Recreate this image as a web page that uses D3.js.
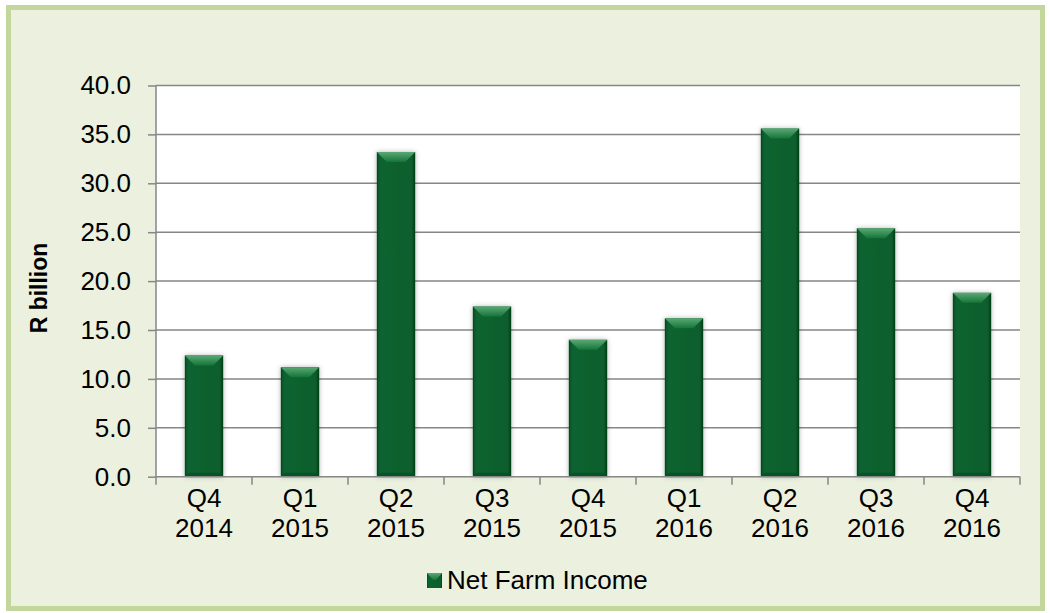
<!DOCTYPE html>
<html>
<head>
<meta charset="utf-8">
<script src="https://cdn.jsdelivr.net/npm/d3@7"></script>
<style>
  body { margin: 0; background: #fff; }
  svg { display: block; font-family: "Liberation Sans", Arial, sans-serif; }
</style>
</head>
<body>
<svg width="1050" height="613"></svg>
<script>
const quarters = ['Q4', 'Q1', 'Q2', 'Q3', 'Q4', 'Q1', 'Q2', 'Q3', 'Q4']
const years = ['2014', '2015', '2015', '2015', '2015', '2016', '2016', '2016', '2016']
const netFarmIncome = [12.4, 11.2, 33.2, 17.4, 14.0, 16.2, 35.6, 25.4, 18.8]
const yTicks = [0, 5, 10, 15, 20, 25, 30, 35, 40]

const svg = d3.select('svg')
const margin = { left: 156, right: 1020, top: 85.5, bottom: 476.7 }

// chart background + frame
svg.append('rect')
    .attr('x', 8.5).attr('y', 7.5)
    .attr('width', 1034).attr('height', 601)
    .attr('fill', '#ebf1de')
    .attr('stroke', '#c3d69b')
    .attr('stroke-width', 5)

svg.append('rect')
    .attr('x', margin.left).attr('y', margin.top)
    .attr('width', margin.right - margin.left)
    .attr('height', margin.bottom - margin.top)
    .attr('fill', '#fff')

const defs = svg.append('defs')
const grad = defs.append('linearGradient').attr('id', 'barGrad')
    .attr('x1', '0%').attr('x2', '100%')
grad.append('stop').attr('offset', '0%').attr('stop-color', '#054a20')
grad.append('stop').attr('offset', '10%').attr('stop-color', '#0b6430')
grad.append('stop').attr('offset', '90%').attr('stop-color', '#0a5f2d')
grad.append('stop').attr('offset', '100%').attr('stop-color', '#033f17')

const topGrad = defs.append('linearGradient').attr('id', 'topGrad')
    .attr('x1', '0%').attr('x2', '0%').attr('y1', '0%').attr('y2', '100%')
topGrad.append('stop').attr('offset', '0%').attr('stop-color', '#5aa874')
topGrad.append('stop').attr('offset', '100%').attr('stop-color', '#157539')

const shadow = defs.append('filter').attr('id', 'shadow')
    .attr('x', '-30%').attr('y', '-10%').attr('width', '160%').attr('height', '120%')
shadow.append('feDropShadow').attr('dx', 0).attr('dy', 0)
    .attr('stdDeviation', 2.5).attr('flood-color', '#000').attr('flood-opacity', 0.3)

const x = d3.scaleBand()
    .domain(d3.range(quarters.length))
    .range([margin.left, margin.right])

const y = d3.scaleLinear()
    .domain([0, 40])
    .range([margin.bottom, margin.top])

// gridlines
svg.append('g')
    .selectAll('line').data(yTicks.filter(d => d > 0))
    .enter().append('line')
    .attr('x1', margin.left).attr('x2', margin.right)
    .attr('y1', d => y(d)).attr('y2', d => y(d))
    .attr('stroke', '#868686').attr('stroke-width', 1.5)

// y axis
const yAxis = svg.append('g')
    .attr('transform', `translate(${margin.left},0)`)
    .call(d3.axisLeft(y).tickValues(yTicks).tickFormat(d3.format('.1f')).tickSize(8).tickPadding(17))
yAxis.selectAll('path, line').attr('stroke', '#868686').attr('stroke-width', 1.5)
yAxis.select('.domain').attr('d', `M0,${margin.top}V${margin.bottom}`)
yAxis.selectAll('text').attr('font-size', 26).attr('fill', '#000')
    .attr('font-family', '"Liberation Sans", Arial, sans-serif')

// bars
const barW = x.bandwidth() * 0.4
const bars = svg.append('g').selectAll('g').data(netFarmIncome)
    .enter().append('g')
    .attr('transform', (d, i) => `translate(${x(i) + (x.bandwidth() - barW) / 2},0)`)

bars.append('rect')
    .attr('y', d => y(d))
    .attr('width', barW)
    .attr('height', d => y(0) - y(d))
    .attr('fill', 'url(#barGrad)')
    .attr('filter', 'url(#shadow)')

bars.append('path')
    .attr('d', d => {
        const t = y(d), b = 10
        return `M0,${t}L${barW},${t}L${barW - b},${t + b}L${b},${t + b}Z`
    })
    .attr('fill', 'url(#topGrad)')

bars.append('path')
    .attr('d', d => {
        const bt = y(0), b = 4
        return `M0,${bt}L${barW},${bt}L${barW - b},${bt - b}L${b},${bt - b}Z`
    })
    .attr('fill', '#085228')

// x axis
const xAxis = svg.append('g').attr('transform', `translate(0,${margin.bottom})`)
xAxis.append('line')
    .attr('x1', margin.left).attr('x2', margin.right)
    .attr('stroke', '#868686').attr('stroke-width', 1.5)
xAxis.selectAll('.tick').data(d3.range(quarters.length + 1))
    .enter().append('line')
    .attr('x1', i => i < quarters.length ? x(i) : margin.right)
    .attr('x2', i => i < quarters.length ? x(i) : margin.right)
    .attr('y1', 0).attr('y2', 8)
    .attr('stroke', '#868686').attr('stroke-width', 1.5)

const labels = xAxis.selectAll('text.lbl').data(quarters)
    .enter().append('text')
    .attr('class', 'lbl')
    .attr('x', (d, i) => x(i) + x.bandwidth() / 2)
    .attr('text-anchor', 'middle')
    .attr('font-size', 26)
labels.append('tspan').attr('x', (d, i) => x(i) + x.bandwidth() / 2).attr('y', 30).text(d => d)
labels.append('tspan').attr('x', (d, i) => x(i) + x.bandwidth() / 2).attr('y', 60).text((d, i) => years[i])

// y axis title
svg.append('text')
    .attr('transform', 'translate(47,288) rotate(-90)')
    .attr('text-anchor', 'middle')
    .attr('font-size', 23)
    .attr('font-weight', 'bold')
    .text('R billion')

// legend
const legend = svg.append('g').attr('transform', 'translate(427,573)')
legend.append('rect').attr('width', 15).attr('height', 15)
    .attr('fill', 'url(#barGrad)')
legend.append('path').attr('d', 'M0,0L15,0L9,7L6,7Z').attr('fill', 'url(#topGrad)')
legend.append('text').attr('x', 20).attr('y', 16)
    .attr('font-size', 26)
    .text('Net Farm Income')
</script>
</body>
</html>
